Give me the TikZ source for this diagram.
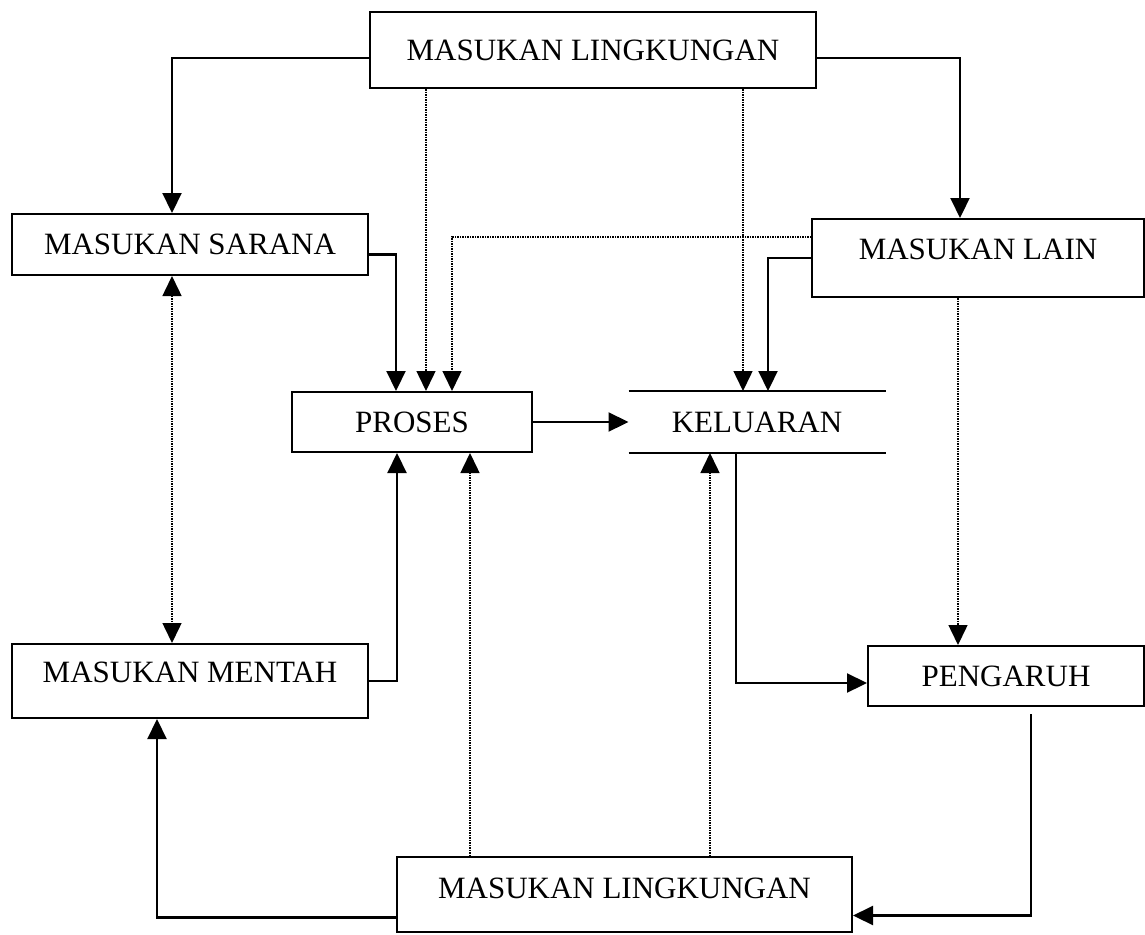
\documentclass[tikz,border=0pt]{standalone}
\usepackage{fontspec}
\setmainfont{Liberation Serif}
\usetikzlibrary{arrows.meta,calc}
\tikzset{
  box/.style={draw, line width=2pt, inner sep=0pt, font=\fontsize{31}{37}\selectfont},
  arr/.style={line width=2.2pt, -{Triangle[length=20pt,width=19pt]}},
  dotarr/.style={line width=1.5pt, densely dotted, -{Triangle[length=20pt,width=19pt]}},
  dotboth/.style={line width=1.5pt, densely dotted, {Triangle[length=20pt,width=19pt]}-{Triangle[length=20pt,width=19pt]}}
}
\begin{document}
\begin{tikzpicture}[x=1pt,y=-1pt]
\useasboundingbox (0,0) rectangle (1145,934);
% nodes
\node[box, minimum width=446pt, minimum height=76pt] (top) at (593,50) {MASUKAN LINGKUNGAN};
\node[box, minimum width=356pt, minimum height=61pt] (sarana) at (190,244.5) {MASUKAN SARANA};
\node[box, minimum width=332pt, minimum height=78pt, text depth=18pt] (lain) at (978,258) {MASUKAN LAIN};
\node[box, minimum width=240pt, minimum height=60pt] (proses) at (412,422) {PROSES};
\node[box, draw=none, minimum width=255pt, minimum height=60pt] (kel) at (757,422) {KELUARAN};
\draw[line width=2pt] (kel.north west) -- (kel.north east) (kel.south west) -- (kel.south east);
\node[box, minimum width=276pt, minimum height=60pt] (peng) at (1006,676) {PENGARUH};
\node[box, minimum width=356pt, minimum height=74pt, text depth=17pt] (mentah) at (190,681) {MASUKAN MENTAH};
\node[box, minimum width=455pt, minimum height=75pt, text depth=12pt] (bot) at (624.5,894.5) {MASUKAN LINGKUNGAN};
% connectors
\draw[arr] ([yshift=-8pt]top.west) -| ([xshift=-18pt]sarana.north);
\draw[arr] ([yshift=-8pt]top.east) -| ([xshift=-18pt]lain.north);
\draw[dotarr] ([xshift=14pt]proses.north |- top.south) -- ([xshift=14pt]proses.north);
\draw[dotarr] ([xshift=-14pt]kel.north |- top.south) -- ([xshift=-14pt]kel.north);
\draw[arr] ([yshift=-10pt]sarana.east) -| ([xshift=-16pt]proses.north);
\draw[dotarr] ([yshift=21pt]lain.west) -| ([xshift=40pt]proses.north);
\draw[arr] (lain.west) -| ([xshift=11pt]kel.north);
\draw[arr] (proses.east) -- (kel.west);
\draw[arr] ([xshift=-21pt]kel.south) |- ([yshift=-7pt]peng.west);
\draw[dotarr] ([xshift=-48pt]peng.north |- lain.south) -- ([xshift=-48pt]peng.north);
\draw[arr] ([xshift=25pt,yshift=-7pt]peng.south) |- ([yshift=-21pt]bot.east);
\draw[arr] ([yshift=-23pt]bot.west) -| ([xshift=-33pt]mentah.south);
\draw[dotarr] ([xshift=58pt]proses.south |- bot.north) -- ([xshift=58pt]proses.south);
\draw[dotarr] ([xshift=-47pt]kel.south |- bot.north) -- ([xshift=-47pt]kel.south);
\draw[arr] (mentah.east) -| ([xshift=-15pt]proses.south);
\draw[dotboth] ([xshift=-18pt]sarana.south) -- ([xshift=-18pt]mentah.north);
\end{tikzpicture}
\end{document}
